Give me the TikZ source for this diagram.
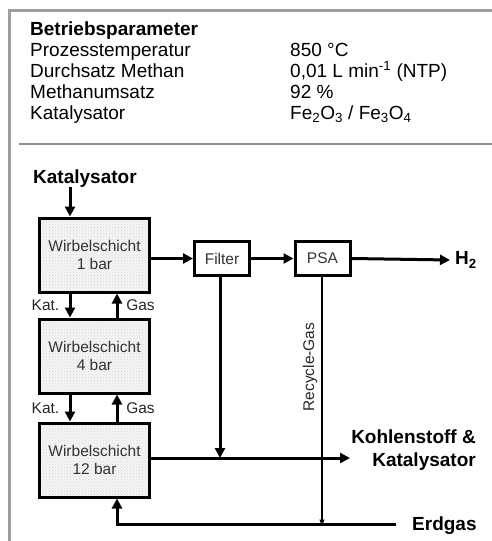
\documentclass[tikz,border=0pt]{standalone}
\usepackage{fontspec}
\setmainfont{Liberation Sans}
\usetikzlibrary{arrows.meta,patterns,calc}
\begin{document}
\begin{tikzpicture}[x=1pt,y=-1pt,
  frame/.style={draw=black!38,line width=3pt},
  sep/.style={draw=black!45,line width=2pt},
  tabtxt/.style={anchor=base west,inner sep=0pt,font=\fontsize{19}{21}\selectfont},
  wbox/.style={draw,line width=3pt,minimum width=110pt,minimum height=74pt,align=center,
     preaction={fill=gray!8},pattern=crosshatch dots,pattern color=gray!32,
     text=black!80,font=\fontsize{15.5}{18}\selectfont},
  sbox/.style={draw,line width=3pt,fill=white,minimum width=55pt,minimum height=34pt,
     text=black!80,font=\fontsize{15.5}{18}\selectfont},
  blbl/.style={font=\bfseries\fontsize{19}{23}\selectfont,inner sep=0pt},
  slbl/.style={font=\fontsize{15.5}{18}\selectfont,text=black!85,inner sep=0pt},
  arr/.style={line width=3pt,-{Triangle[length=10pt,width=10pt]}},
  thinarr/.style={line width=1.2pt,-{Triangle[length=6pt,width=5pt]}}
]
\useasboundingbox (0,0) rectangle (492,541);
% frame
\draw[frame] (9.5,541) -- (9.5,10) -- (492,10);
\draw[sep] (19,144) -- (492,144);
% table
\node[tabtxt] (t0) at (30,35) {\bfseries Betriebsparameter};
\node[tabtxt] (t1) at (30,56) {Prozesstemperatur};
\node[tabtxt] (v1) at (290,56) {850 °C};
\node[tabtxt] (t2) at (30,77) {Durchsatz Methan};
\node[tabtxt] (v2) at (290,77) {0,01 L min\textsuperscript{-1} (NTP)};
\node[tabtxt] (t3) at (30,98) {Methanumsatz};
\node[tabtxt] (v3) at (290,98) {92 \%};
\node[tabtxt] (t4) at (30,119) {Katalysator};
\node[tabtxt] (v4) at (290,119) {Fe\textsubscript{2}O\textsubscript{3} / Fe\textsubscript{3}O\textsubscript{4}};
% diagram nodes
\node[blbl,anchor=base west] (kat) at (33,183) {Katalysator};
\node[wbox] (b1) at (94.5,255) {Wirbelschicht\\1 bar};
\node[wbox] (b2) at (94.5,356) {Wirbelschicht\\4 bar};
\node[wbox] (b3) at (94.5,460) {Wirbelschicht\\12 bar};
\node[sbox] (f) at (222,258.5) {Filter};
\node[sbox] (p) at (322.5,258.5) {PSA};
\node[blbl,anchor=west] (h2) at (455,260) {H\textsubscript{2}};
\node[blbl,anchor=east,align=right] (kk) at (476,450) {Kohlenstoff \&\\Katalysator};
\node[blbl,anchor=west] (eg) at (412,526) {Erdgas};
\node[slbl,rotate=90] (rg) at (310,367) {Recycle-Gas};
\node[slbl] (k1) at (45.5,305) {Kat.};
\node[slbl] (g1) at (140.5,305) {Gas};
\node[slbl] (k2) at (45.5,408) {Kat.};
\node[slbl] (g2) at (140.5,408) {Gas};
% helper coordinates
\coordinate (xk) at (70,0);
\coordinate (xg) at (117,0);
\coordinate (xf) at (220,0);
\coordinate (xr) at (322,0);
\coordinate (j1) at (220,458);
\coordinate (ko) at (350,458);
\coordinate (eR) at (396,524);
\coordinate (eL) at (117,524);
\coordinate (rR) at (322,524);
% connectors
\draw[arr] (kat.south -| xk) -- (b1.north -| xk);
\draw[arr] (b1.south -| xk) -- (b2.north -| xk);
\draw[arr] (b2.north -| xg) -- (b1.south -| xg);
\draw[arr] (b2.south -| xk) -- (b3.north -| xk);
\draw[arr] (b3.north -| xg) -- (b2.south -| xg);
\draw[arr] (b1.east |- f.west) -- (f.west);
\draw[arr] (f.east) -- (p.west);
\draw[arr] (p.east) -- ([xshift=-5pt]h2.west);
\draw[arr] (f.south -| xf) -- (j1);
\draw[arr] (b3.east |- ko) -- (ko);
\draw[thinarr] (p.south -| xr) -- ([yshift=-1.5pt]rR);
\draw[arr] (eR) -- (eL) -- (b3.south -| xg);
\end{tikzpicture}
\end{document}
